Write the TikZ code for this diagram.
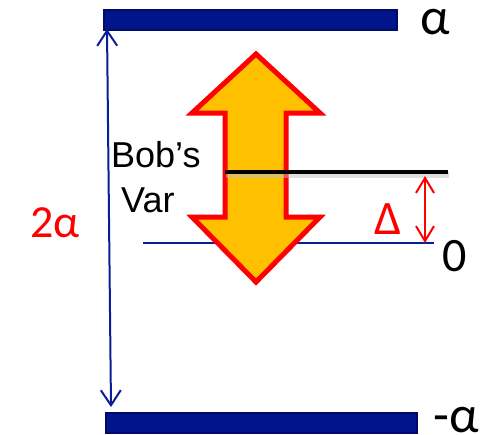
\documentclass[tikz,border=0pt]{standalone}
\usepackage{fontspec}
\setmainfont{Liberation Sans}
\newfontfamily\calfont{Carlito}
\usetikzlibrary{arrows.meta}
\definecolor{navyfill}{RGB}{0,20,140}
\definecolor{navyedge}{RGB}{0,12,100}
\definecolor{navyline}{RGB}{10,30,150}
\definecolor{arrowfill}{RGB}{255,192,0}
\definecolor{arrowred}{RGB}{255,0,0}
\begin{document}
\begin{tikzpicture}[x=1pt,y=-1pt,
  bar/.style={draw=navyedge,fill=navyfill,line width=1.5pt},
  lbl/.style={inner sep=0pt,anchor=center},
  bobtxt/.style={inner sep=0pt,anchor=base west,font=\fontsize{36}{42}\selectfont},
]
\useasboundingbox (0,0) rectangle (481,434);
% bars
\node[bar,minimum width=293pt,minimum height=20pt,inner sep=0pt,anchor=north west] (topbar) at (103,9) {};
\node[bar,minimum width=311pt,minimum height=20pt,inner sep=0pt,anchor=north west] (botbar) at (105,412) {};
% zero line (behind arrow)
\coordinate (zl) at (143,243);
\coordinate (zr) at (434,243);
\draw[navyline,line width=1.3pt] (zl) -- (zr);
% big double arrow
\draw[arrowred,fill=arrowfill,line width=5pt,line join=miter]
  (256,54) -- (320,113) -- (286,113) -- (286,217) -- (320,217) -- (256,282)
  -- (192,217) -- (225,217) -- (225,113) -- (192,113) -- cycle;
% Bob's var line with shadow
\coordinate (bl) at (225,172);
\coordinate (br) at (448,172);
\draw[black!25,opacity=0.5,line width=6pt] ([shift={(1,3)}]bl) -- ([shift={(1,3)}]br);
\draw[black,line width=4.5pt] (bl) -- (br);
% 2alpha arrow
\coordinate (vt) at (107,29);
\coordinate (vb) at (111,407);
\draw[navyline,line width=2pt,{Straight Barb[length=15pt,width=20pt,line width=2pt]}-{Straight Barb[length=15pt,width=20pt,line width=2pt]}] (vt) -- (vb);
% Delta arrow
\coordinate (dt) at (425,176);
\coordinate (db) at (425,243);
\draw[arrowred,line width=2pt,{Straight Barb[length=15pt,width=18pt,line width=2pt]}-{Straight Barb[length=15pt,width=18pt,line width=2pt]}] (dt) -- (db);
% labels
\node[lbl,font=\calfont\fontsize{52}{58}\selectfont] (alpha) at (435,22) {α};
\node[lbl,font=\calfont\fontsize{52}{58}\selectfont] (malpha) at (456,420) {-α};
\node[lbl,font=\calfont\fontsize{48}{54}\selectfont] (zero) at (455,256) {0};
\node[lbl,font=\calfont\fontsize{46}{52}\selectfont,text=arrowred] (twoalpha) at (55,223) {2α};
\node[lbl,font=\calfont\fontsize{48}{54}\selectfont,text=arrowred] (delta) at (388,219) {Δ};
\node[bobtxt] (bob) at (111,167) {Bob’s};
\node[bobtxt] (var) at (121,212) {Var};
\end{tikzpicture}
\end{document}
